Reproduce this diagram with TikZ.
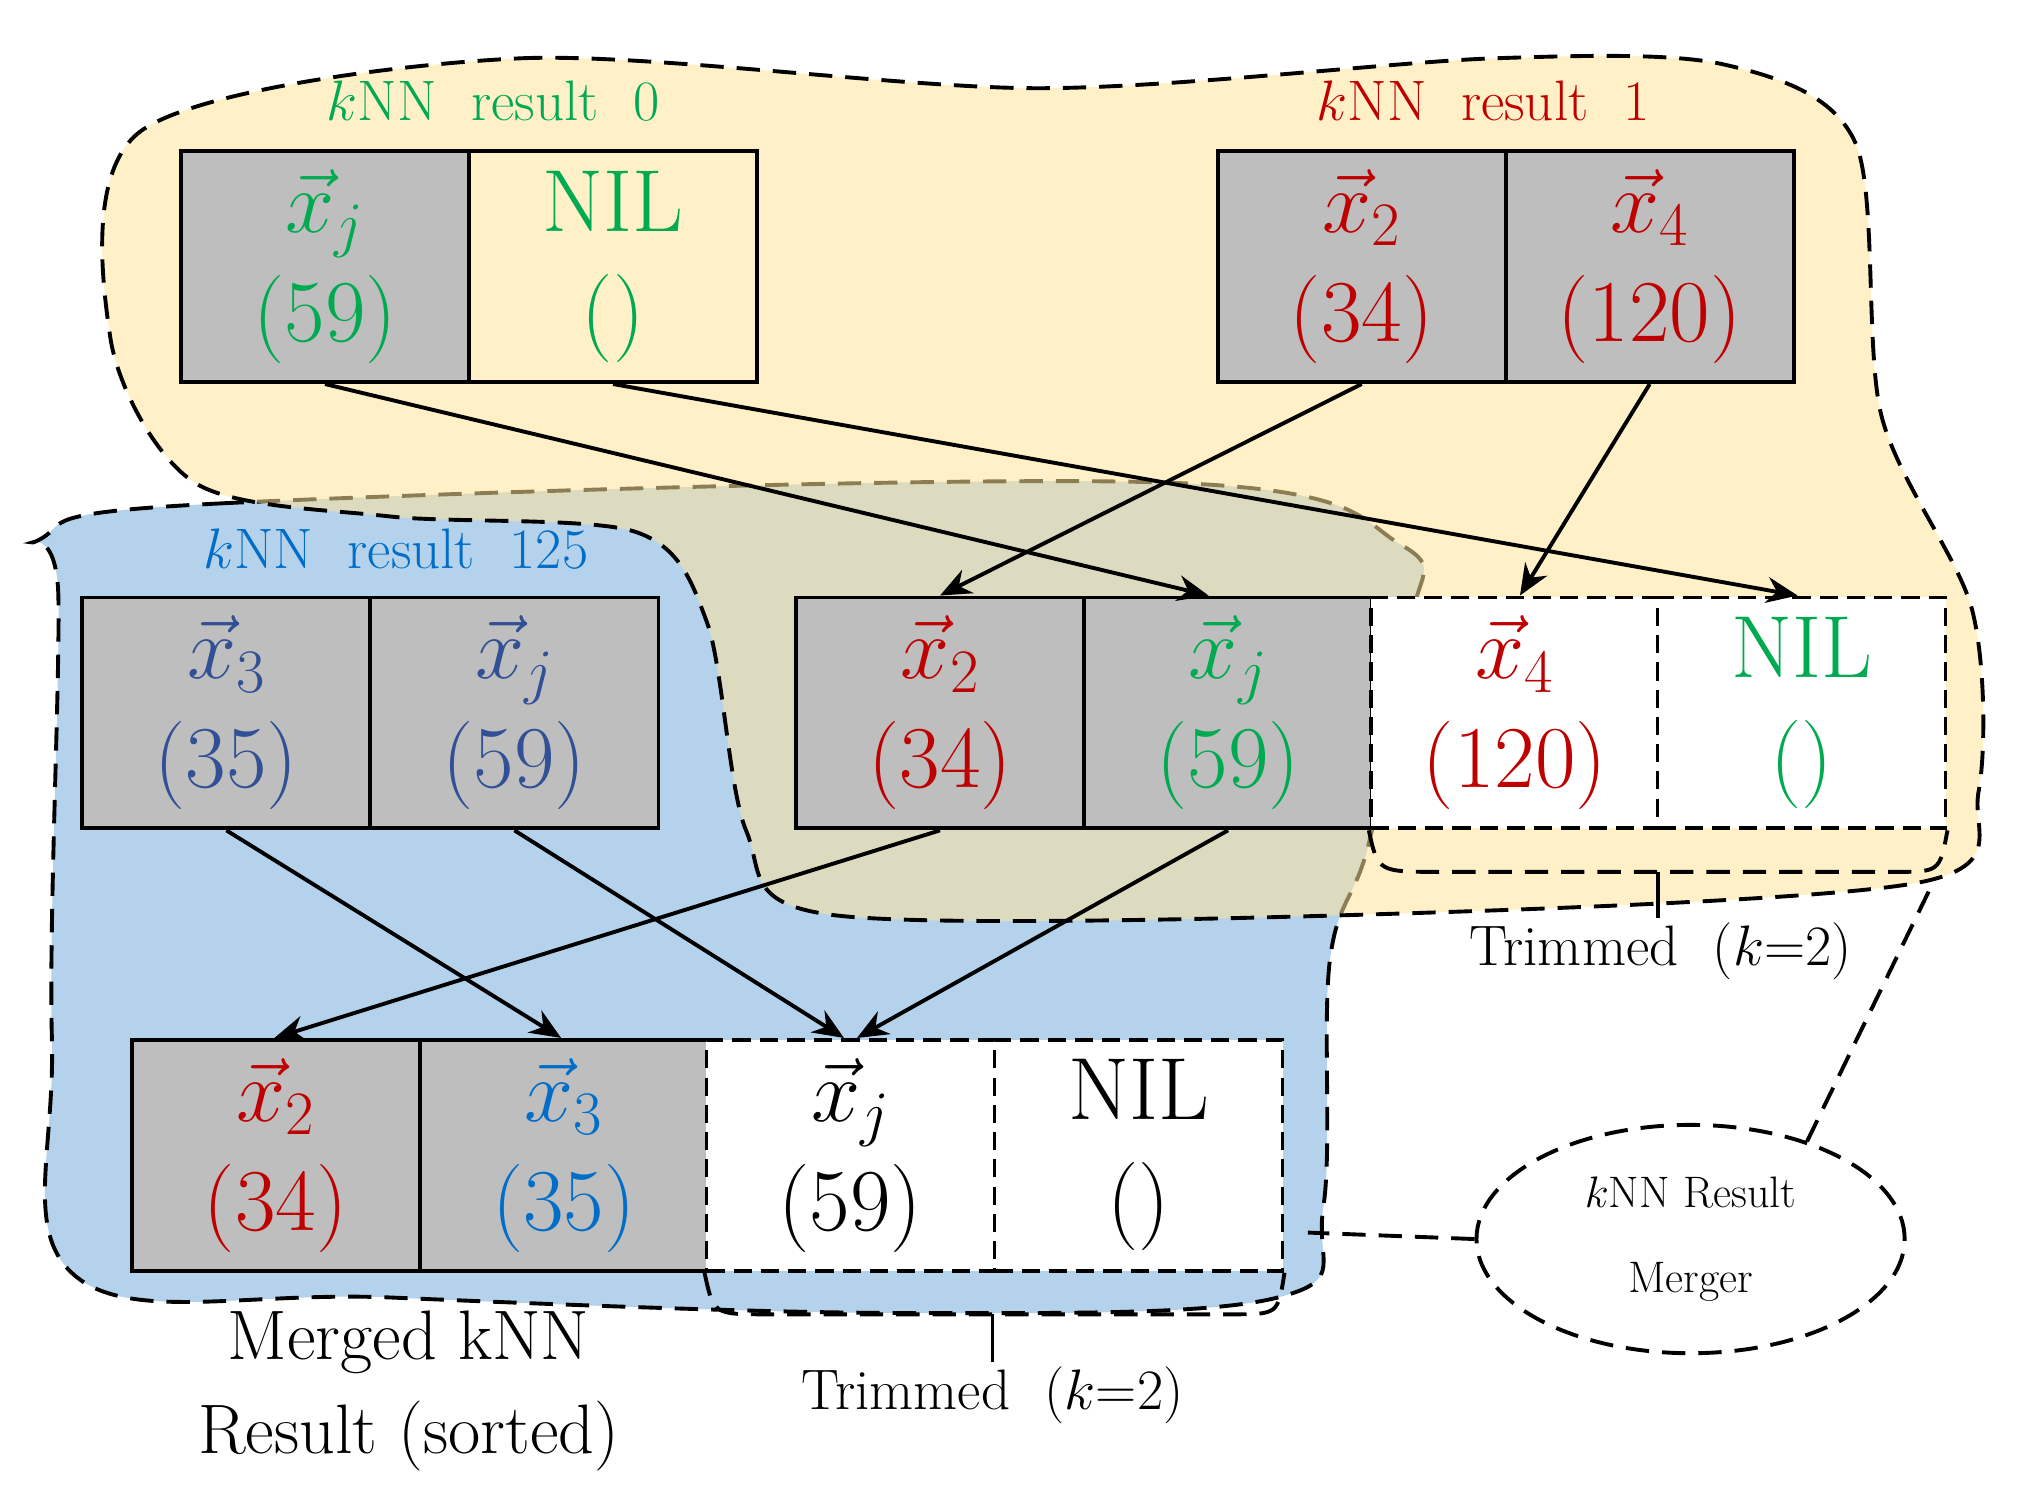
\RequirePackage{fix-cm}
\documentclass[tikz,border=0pt]{standalone}
\usepackage{amsmath}
\usetikzlibrary{arrows.meta,shapes.geometric}
\definecolor{cg}{RGB}{0,170,80}
\definecolor{cr}{RGB}{190,0,0}
\definecolor{cb}{RGB}{0,110,200}
\definecolor{cdb}{RGB}{50,80,150}
\definecolor{yel}{RGB}{255,228,155}
\definecolor{blu}{RGB}{180,210,235}
\definecolor{gr}{RGB}{190,190,190}
\begin{document}
\begin{tikzpicture}[x=1pt,y=-1pt,
 cell/.style={draw,line width=3pt,minimum width=222pt,minimum height=178pt,anchor=north west,inner sep=0pt,align=center,font=\fontsize{68}{84}\selectfont},
 g/.style={cell,fill=gr},
 w/.style={cell,fill=white,dash pattern=on 14pt off 7pt},
 blob/.style={line width=3pt,dash pattern=on 18pt off 10pt},
 arr/.style={line width=3pt,-{Stealth[length=24pt,width=20pt]}},
 lab/.style={font=\fontsize{44}{50}\selectfont},
 dl/.style={line width=3pt,dash pattern=on 18pt off 10pt}]
\useasboundingbox (0,0) rectangle (1560,1155);
% blobs
\draw[blob,fill=blu] plot[smooth cycle,tension=0.6] coordinates{(32,415)(170,388)(900,372)(1080,420)(1088,480)(1055,650)(1025,740)(1020,930)(985,1000)(700,1012)(300,1000)(60,985)(40,800)(45,460)};
\draw[blob,fill=yel,fill opacity=0.55] plot[smooth cycle,tension=0.5] coordinates{(110,100)(400,45)(800,68)(1150,45)(1330,50)(1430,110)(1450,320)(1520,470)(1525,610)(1480,680)(1050,705)(640,705)(575,640)(545,480)(490,410)(300,398)(150,372)(85,260)};
% cells
\node[g] (a1) at (138,115) {\color{cg}$\vec{x}_j$\\\color{cg}(59)};
\node[cell,fill=none] (a2) at (360,115) {\color{cg}NIL\\\color{cg}()};
\node[g] (b1) at (937,115) {\color{cr}$\vec{x}_2$\\\color{cr}(34)};
\node[g] (b2) at (1159,115) {\color{cr}$\vec{x}_4$\\\color{cr}(120)};
\node[g] (c1) at (62,459) {\color{cdb}$\vec{x}_3$\\\color{cdb}(35)};
\node[g] (c2) at (284,459) {\color{cdb}$\vec{x}_j$\\\color{cdb}(59)};
\node[g] (d1) at (612,459) {\color{cr}$\vec{x}_2$\\\color{cr}(34)};
\node[g] (d2) at (834,459) {\color{cg}$\vec{x}_j$\\\color{cg}(59)};
\node[w] (d3) at (1055,459) {\color{cr}$\vec{x}_4$\\\color{cr}(120)};
\node[w] (d4) at (1276,459) {\color{cg}NIL\\\color{cg}()};
\node[g] (e1) at (100,800) {\color{cr}$\vec{x}_2$\\\color{cr}(34)};
\node[g] (e2) at (322,800) {\color{cb}$\vec{x}_3$\\\color{cb}(35)};
\node[w] (e3) at (543,800) {$\vec{x}_j$\\(59)};
\node[w] (e4) at (765,800) {NIL\\()};
% labels
\node[lab,text=cg] (l0) at (380,78) {$k$NN\ \ result\ \ 0};
\node[lab,text=cr] (l1) at (1143,78) {$k$NN\ \ result\ \ 1};
\node[lab,text=cb] (l2) at (305,423) {$k$NN\ \ result\ \ 125};
\node[lab] (t1) at (1280,733) {Trimmed\ \ ($k$=2)};
\node[lab] (t2) at (765,1075) {Trimmed\ \ ($k$=2)};
\node[align=center,font=\fontsize{54}{72}\selectfont] (mg) at (315,1072) {Merged\ kNN\\Result\ (sorted)};
\node[draw,ellipse,dl,minimum width=330pt,minimum height=176pt,align=center,font=\fontsize{34}{66}\selectfont] (el) at (1303,955) {$k$NN Result\\Merger};
% trimmed brackets
\draw[dl] (d3.south west) .. controls (1062,672) .. (1110,672) -- (1460,672) .. controls (1495,672) .. (d4.south east);
\coordinate (tk1) at (1278,672);
\draw[line width=3pt] (tk1) -- (t1.north -| tk1);
\draw[dl] (e3.south west) .. controls (550,1013) .. (590,1013) -- (950,1013) .. controls (985,1013) .. (e4.south east);
\coordinate (tk2) at (765,1013);
\draw[line width=3pt] (tk2) -- (t2.north -| tk2);
\coordinate (m1) at (1008,950);
\coordinate (m2) at (1490,680);
\draw[dl] (el.west) -- (m1);
\draw[dl] (el.40) -- (m2);
% arrows
\draw[arr] (a1.south) -- ([xshift=-15pt]d2.north);
\draw[arr] (a2.south) -- ([xshift=-3pt]d4.north);
\draw[arr] (b1.south) -- (d1.north);
\draw[arr] (b2.south) -- ([xshift=4pt]d3.north);
\draw[arr] (c1.south) -- ([xshift=-2pt]e2.north);
\draw[arr] (c2.south) -- ([xshift=-5pt]e3.north);
\draw[arr] (d1.south) -- ([xshift=-1pt]e1.north);
\draw[arr] (d2.south) -- ([xshift=5pt]e3.north);
\end{tikzpicture}
\end{document}
